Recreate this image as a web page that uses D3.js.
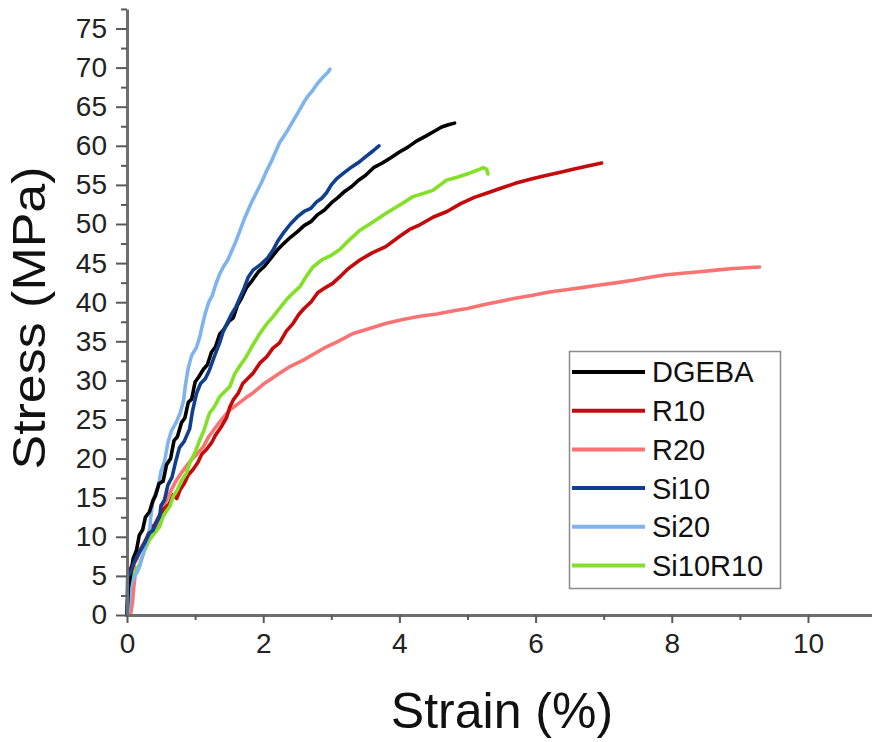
<!DOCTYPE html>
<html>
<head>
<meta charset="utf-8">
<script src="https://cdn.jsdelivr.net/npm/d3@7"></script>
<style>
  html, body { margin: 0; padding: 0; background: #fff; }
  svg { display: block; font-family: "Liberation Sans", Arial, sans-serif; }
</style>
</head>
<body>
<svg id="chart" width="872" height="742"></svg>
<script>
// Tensile stress-strain curves, [strain %, stress MPa]
const seriesNames = ["DGEBA", "R10", "R20", "Si10", "Si20", "Si10R10"];
const seriesColors = ["#000000", "#c40a0a", "#f97373", "#103f8f", "#7fb3f0", "#82e026"];

const dgeba = [[0,0],[0.02,3.5],[0.06,5.5],[0.09,7.2],[0.14,8.3],[0.18,10.2],[0.23,10.9],[0.27,12.5],[0.33,13.2],[0.38,14.6],[0.42,15.3],[0.47,16.8],[0.53,17.1],[0.58,19.2],[0.64,20.0],[0.69,22.3],[0.74,22.8],[0.8,24.6],[0.85,25.2],[0.9,27.2],[0.95,27.6],[1.0,29.8],[1.05,30.4],[1.12,31.4],[1.18,32.0],[1.24,33.6],[1.3,34.3],[1.36,35.9],[1.42,36.5],[1.5,37.6],[1.56,38.0],[1.62,39.6],[1.68,40.5],[1.75,41.8],[1.84,42.8],[1.93,43.9],[2.02,44.6],[2.12,45.7],[2.2,46.6],[2.3,47.5],[2.4,48.3],[2.5,49.0],[2.6,49.8],[2.7,50.3],[2.8,51.2],[2.9,51.8],[3.0,52.7],[3.1,53.4],[3.2,54.2],[3.3,54.8],[3.4,55.6],[3.5,56.2],[3.62,57.2],[3.75,57.8],[3.88,58.5],[4.0,59.2],[4.12,59.8],[4.25,60.6],[4.38,61.2],[4.5,61.8],[4.62,62.4],[4.72,62.7],[4.81,62.9]];

const r10 = [[0,0],[0.02,3.0],[0.04,5.8],[0.08,6.4],[0.13,7.2],[0.2,8.4],[0.27,9.5],[0.34,10.9],[0.41,11.6],[0.48,12.8],[0.55,13.6],[0.62,14.2],[0.68,15.4],[0.73,14.9],[0.78,16.0],[0.84,16.8],[0.9,17.9],[0.97,18.6],[1.04,19.5],[1.1,20.6],[1.17,21.2],[1.24,22.0],[1.3,23.0],[1.38,24.0],[1.46,25.2],[1.51,26.6],[1.56,27.5],[1.63,28.3],[1.7,29.6],[1.77,30.2],[1.85,30.9],[1.95,32.2],[2.05,33.0],[2.14,34.1],[2.24,34.8],[2.34,36.3],[2.44,37.3],[2.52,38.4],[2.6,39.2],[2.7,40.0],[2.8,41.2],[2.92,41.9],[3.02,42.4],[3.12,43.2],[3.25,44.3],[3.42,45.4],[3.6,46.3],[3.8,47.1],[4.0,48.4],[4.15,49.3],[4.3,49.9],[4.5,50.9],[4.7,51.6],[4.9,52.6],[5.1,53.4],[5.3,54.0],[5.5,54.6],[5.7,55.2],[5.95,55.8],[6.15,56.2],[6.35,56.6],[6.55,57.0],[6.75,57.4],[6.97,57.8]];

const r20 = [[0.05,0],[0.08,1.5],[0.1,3.6],[0.12,5.2],[0.1,6.5],[0.15,7.2],[0.19,8.3],[0.25,9.0],[0.3,9.8],[0.36,10.5],[0.43,11.3],[0.5,12.9],[0.58,14.7],[0.65,16.0],[0.73,17.3],[0.8,18.2],[0.87,19.0],[0.95,19.9],[1.03,20.6],[1.12,21.5],[1.2,22.8],[1.31,24.1],[1.41,25.2],[1.51,26.2],[1.63,27.0],[1.75,27.8],[1.85,28.4],[2.0,29.5],[2.12,30.2],[2.24,30.9],[2.4,31.8],[2.59,32.6],[2.75,33.4],[2.93,34.3],[3.1,35.0],[3.32,36.0],[3.55,36.6],[3.81,37.3],[4.05,37.8],[4.3,38.2],[4.55,38.5],[4.8,38.9],[5.0,39.2],[5.25,39.7],[5.47,40.1],[5.7,40.5],[5.96,40.9],[6.2,41.3],[6.45,41.6],[6.7,41.9],[6.94,42.2],[7.2,42.5],[7.43,42.8],[7.68,43.2],[7.92,43.5],[8.16,43.7],[8.41,43.9],[8.65,44.1],[8.9,44.3],[9.1,44.4],[9.29,44.5]];

const si10 = [[0,0],[0.01,4.9],[0.05,5.4],[0.1,6.6],[0.14,7.4],[0.2,8.3],[0.26,9.2],[0.33,10.5],[0.38,10.8],[0.43,11.8],[0.48,12.6],[0.5,14.0],[0.55,14.7],[0.6,16.6],[0.66,17.6],[0.72,19.8],[0.77,21.4],[0.84,22.2],[0.92,23.8],[0.96,26.0],[1.02,28.3],[1.08,29.6],[1.15,30.2],[1.21,31.3],[1.28,33.0],[1.36,34.8],[1.41,36.2],[1.47,37.3],[1.53,38.4],[1.6,39.4],[1.66,40.6],[1.72,41.8],[1.78,43.2],[1.85,44.1],[1.96,44.8],[2.06,45.6],[2.14,46.6],[2.22,47.9],[2.3,48.9],[2.4,50.0],[2.5,50.9],[2.6,51.6],[2.7,52.0],[2.78,52.8],[2.86,53.3],[2.93,54.0],[3.0,55.0],[3.08,55.8],[3.18,56.5],[3.3,57.3],[3.42,58.0],[3.52,58.7],[3.62,59.4],[3.7,60.0]];

const si20 = [[0,0],[0.03,1.0],[0.05,3.5],[0.1,4.8],[0.15,5.5],[0.19,6.3],[0.24,8.0],[0.29,9.5],[0.33,10.5],[0.35,12.6],[0.38,14.6],[0.42,15.6],[0.46,16.5],[0.5,18.4],[0.55,19.6],[0.6,22.0],[0.65,23.5],[0.72,24.6],[0.78,25.8],[0.83,27.4],[0.86,29.5],[0.9,31.6],[0.95,33.2],[1.02,34.2],[1.07,35.6],[1.1,36.8],[1.15,38.6],[1.2,40.0],[1.25,40.8],[1.3,42.2],[1.36,43.6],[1.42,44.6],[1.48,45.4],[1.55,46.8],[1.6,47.8],[1.66,49.2],[1.72,50.6],[1.77,51.6],[1.83,52.8],[1.9,54.0],[1.98,55.4],[2.05,56.8],[2.12,58.0],[2.18,59.2],[2.24,60.4],[2.3,61.2],[2.36,62.0],[2.42,62.9],[2.48,63.8],[2.54,64.7],[2.6,65.6],[2.66,66.4],[2.72,67.0],[2.8,68.0],[2.88,68.8],[2.95,69.4],[2.98,69.8]];

const si10r10 = [[0,0],[0.01,2.0],[0.04,4.1],[0.1,5.2],[0.19,6.6],[0.26,8.3],[0.33,9.6],[0.4,10.4],[0.48,11.3],[0.53,12.6],[0.58,13.3],[0.63,13.9],[0.68,15.2],[0.74,16.0],[0.8,17.2],[0.87,18.1],[0.93,19.6],[1.0,20.8],[1.07,22.4],[1.13,23.6],[1.21,25.8],[1.28,26.6],[1.36,27.9],[1.44,28.6],[1.51,29.2],[1.58,30.8],[1.66,31.9],[1.75,33.0],[1.84,34.4],[1.95,36.0],[2.05,37.2],[2.14,38.1],[2.24,39.2],[2.34,40.3],[2.44,41.2],[2.54,42.0],[2.64,43.4],[2.73,44.5],[2.86,45.4],[3.0,46.0],[3.12,46.7],[3.27,48.0],[3.42,49.2],[3.6,50.2],[3.81,51.4],[4.0,52.4],[4.2,53.5],[4.35,53.9],[4.49,54.3],[4.6,55.0],[4.69,55.6],[4.86,56.0],[5.03,56.5],[5.15,56.9],[5.23,57.2],[5.28,57.0],[5.3,56.4]];

const seriesData = [dgeba, r10, r20, si10, si20, si10r10];

const xMajorTicks = [0, 2, 4, 6, 8, 10];
const xMinorTicks = [1, 3, 5, 7, 9];
const yMajorTicks = [0, 5, 10, 15, 20, 25, 30, 35, 40, 45, 50, 55, 60, 65, 70, 75];
const yMinorTicks = [2.5, 7.5, 12.5, 17.5, 22.5, 27.5, 32.5, 37.5, 42.5, 47.5, 52.5, 57.5, 62.5, 67.5, 72.5, 77.5];

const svg = d3.select("#chart");
const x0 = 127, y0 = 615;
const x = d3.scaleLinear().domain([0, 11]).range([x0, x0 + 11 * 68.1]);
const y = d3.scaleLinear().domain([0, 77.5]).range([y0, y0 - 77.5 * 7.82]);

const axisColor = "#6e6e6e";
const tickColor = "#5a5a5a";

// curves (drawn under the axes)
const line = d3.line().x(d => x(d[0])).y(d => y(d[1])).curve(d3.curveLinear);
const plotOrder = [2, 1, 5, 4, 0, 3];
svg.append("g").selectAll("path")
  .data(plotOrder)
  .join("path")
  .attr("d", i => line(seriesData[i]))
  .attr("fill", "none")
  .attr("stroke", i => seriesColors[i])
  .attr("stroke-width", 3.6)
  .attr("stroke-linejoin", "round")
  .attr("stroke-linecap", "round");

// x axis
const xAxis = svg.append("g").attr("transform", `translate(0,${y0})`)
  .call(d3.axisBottom(x).tickValues(xMajorTicks).tickSize(8).tickSizeOuter(0).tickPadding(10).tickFormat(d3.format("d")));
xAxis.select(".domain").attr("stroke", axisColor).attr("stroke-width", 3);
xAxis.selectAll(".tick line").attr("stroke", tickColor).attr("stroke-width", 2);
xAxis.selectAll(".tick text").attr("font-size", 28).attr("fill", "#222")
  .attr("font-family", "'Liberation Sans', Arial, sans-serif");
svg.append("g").attr("transform", `translate(0,${y0})`)
  .call(d3.axisBottom(x).tickValues(xMinorTicks).tickSize(5).tickFormat(""))
  .call(g => g.select(".domain").remove())
  .call(g => g.selectAll(".tick line").attr("stroke", tickColor).attr("stroke-width", 2));

// y axis
const yAxis = svg.append("g").attr("transform", `translate(${x0},0)`)
  .call(d3.axisLeft(y).tickValues(yMajorTicks).tickSize(11).tickSizeOuter(0).tickPadding(9).tickFormat(d3.format("d")));
yAxis.select(".domain").attr("stroke", axisColor).attr("stroke-width", 3);
yAxis.selectAll(".tick line").attr("stroke", tickColor).attr("stroke-width", 2);
yAxis.selectAll(".tick text").attr("font-size", 28).attr("fill", "#222")
  .attr("font-family", "'Liberation Sans', Arial, sans-serif");
svg.append("g").attr("transform", `translate(${x0},0)`)
  .call(d3.axisLeft(y).tickValues(yMinorTicks).tickSize(6).tickFormat(""))
  .call(g => g.select(".domain").remove())
  .call(g => g.selectAll(".tick line").attr("stroke", tickColor).attr("stroke-width", 2));

// axis titles
svg.append("text")
  .attr("x", 502).attr("y", 728)
  .attr("text-anchor", "middle")
  .attr("font-size", 50).attr("fill", "#111")
  .text("Strain (%)");
svg.append("text")
  .attr("transform", "translate(45,318) rotate(-90)")
  .attr("text-anchor", "middle")
  .attr("font-size", 46).attr("fill", "#111")
  .attr("textLength", 303).attr("lengthAdjust", "spacingAndGlyphs")
  .text("Stress (MPa)");

// legend
const legend = svg.append("g");
legend.append("rect")
  .attr("x", 569.5).attr("y", 351.5).attr("width", 211).attr("height", 237)
  .attr("fill", "#fff").attr("stroke", "#8a8a8a").attr("stroke-width", 1.5);
const legendTop = 372, legendStep = 38.7;
const entries = legend.selectAll("g.entry").data(seriesNames).join("g")
  .attr("class", "entry")
  .attr("transform", (d, i) => `translate(0,${legendTop + i * legendStep})`);
entries.append("line")
  .attr("x1", 572).attr("x2", 645).attr("y1", 0).attr("y2", 0)
  .attr("stroke", (d, i) => seriesColors[i]).attr("stroke-width", 4);
entries.append("text")
  .attr("x", 652).attr("y", 0).attr("dy", "0.36em")
  .attr("font-size", 29).attr("fill", "#111")
  .text(d => d);
</script>
</body>
</html>
